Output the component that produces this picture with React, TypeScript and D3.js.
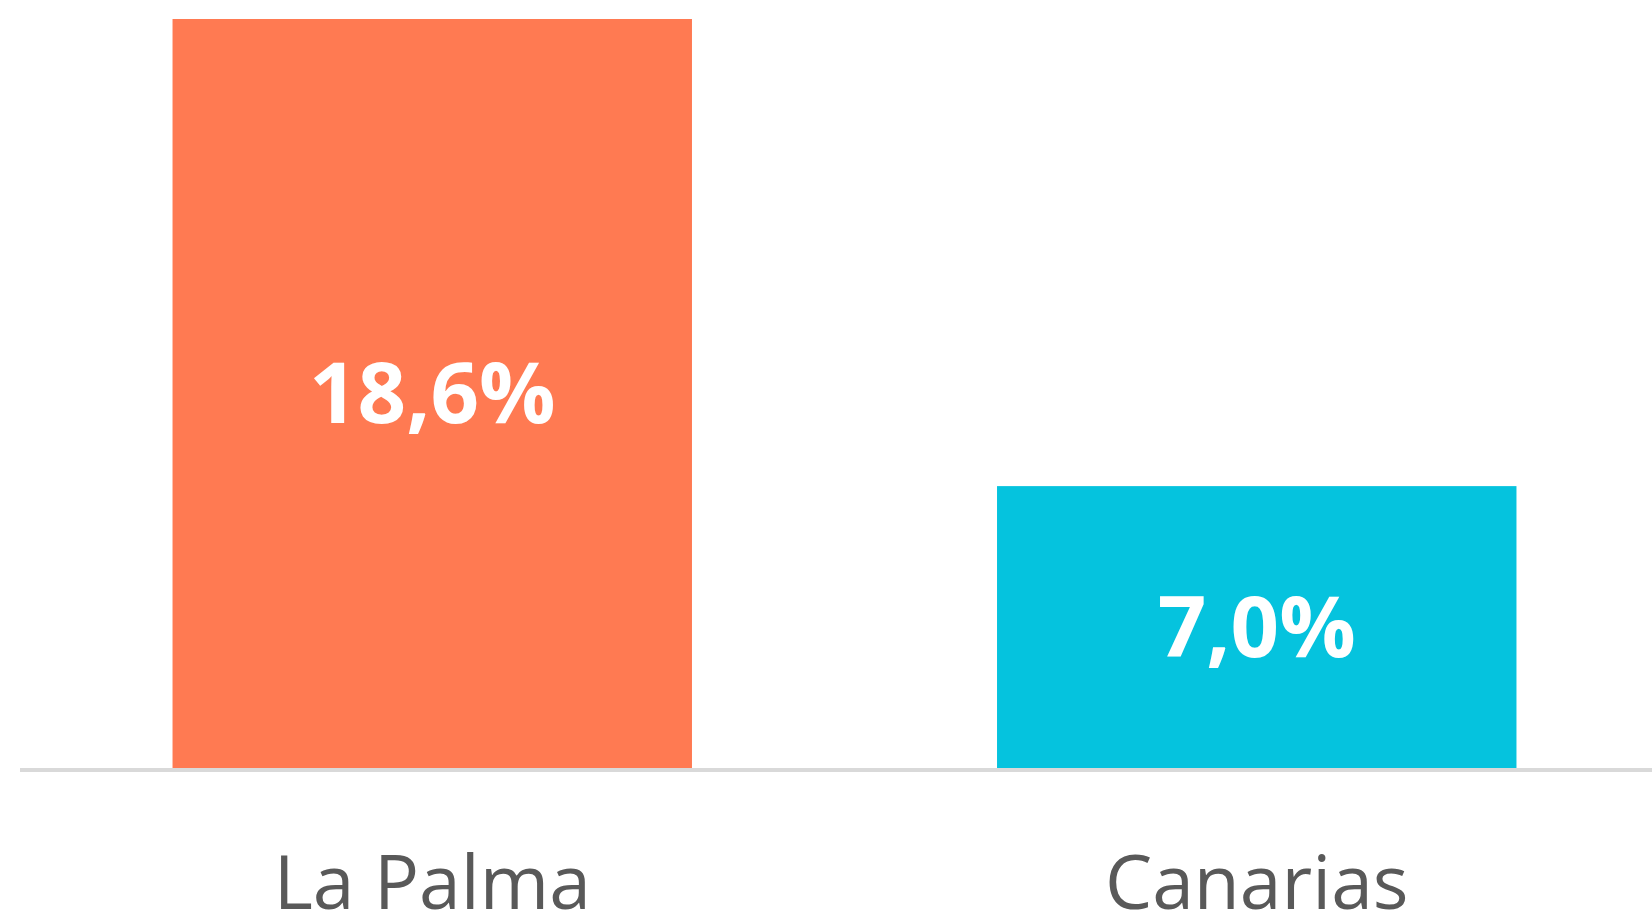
import React from "react";
import * as d3 from "d3";

const categories: string[] = ["La Palma", "Canarias"];
const values: number[] = [18.6, 7.0];
const valueLabels: string[] = ["18,6%", "7,0%"];
const colors: string[] = ["#FF7A52", "#05C3DE"];

const W = 1652;
const H = 917;

export default function App() {
  const x = d3
    .scaleBand<string>()
    .domain(categories)
    .range([20, 1669])
    .paddingInner(0.37)
    .paddingOuter(0.185);
  const y = d3.scaleLinear().domain([0, 18.6]).range([768, 19]);
  const font = "'Open Sans', 'Liberation Sans', sans-serif";

  return (
    <svg
      width={W}
      height={H}
      style={{ position: "absolute", left: 0, top: 0, background: "#fff" }}
    >
      {categories.map((c, i) => {
        const x0 = x(c)!;
        const bw = x.bandwidth();
        const yt = y(values[i]);
        const yb = y(0);
        return (
          <g key={c}>
            <rect x={x0} y={yt} width={bw} height={yb - yt} fill={colors[i]} />
            <text
              x={x0 + bw / 2}
              y={(yt + yb) / 2}
              dy="0.35em"
              textAnchor="middle"
              fill="#fff"
              fontFamily={font}
              fontWeight={700}
              fontSize={85}
            >
              {valueLabels[i]}
            </text>
            <text
              x={x0 + bw / 2}
              y={909}
              textAnchor="middle"
              fill="#595959"
              fontFamily={font}
              fontSize={75}
            >
              {c}
            </text>
          </g>
        );
      })}
      <line x1={20} x2={W} y1={770} y2={770} stroke="#d9d9d9" strokeWidth={4} />
    </svg>
  );
}
